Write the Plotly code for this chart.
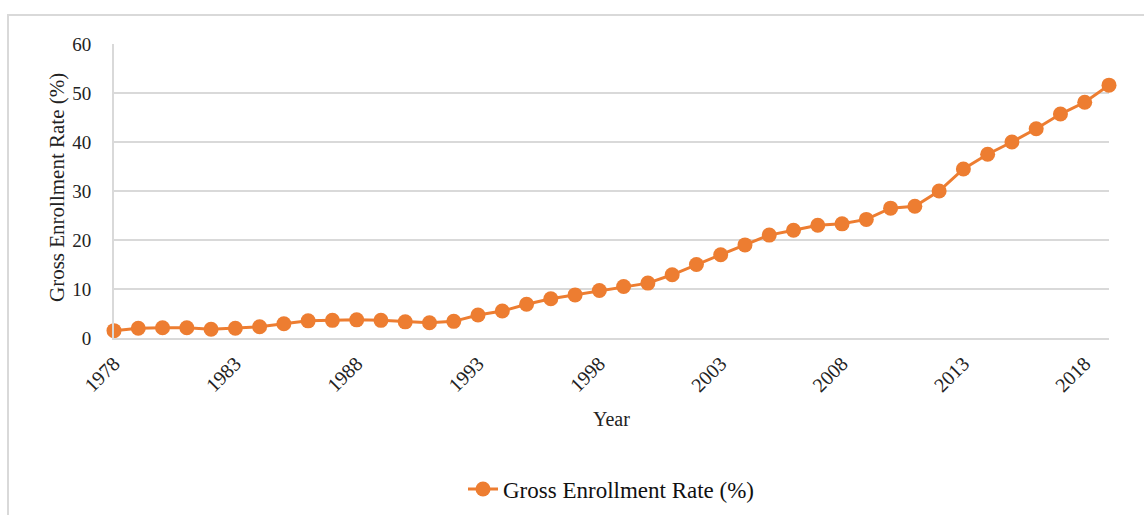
import plotly.graph_objects as go

years = list(range(1978, 2020))
rates = [1.5, 2.0, 2.1, 2.1, 1.8, 2.0, 2.3, 2.9, 3.5, 3.6, 3.7, 3.6, 3.3, 3.1, 3.4,
         4.7, 5.5, 6.9, 8.0, 8.8, 9.7, 10.5, 11.2, 12.9, 15.0, 17.0, 19.0, 21.0,
         22.0, 23.0, 23.3, 24.2, 26.5, 26.9, 30.0, 34.5, 37.5, 40.0, 42.7, 45.7,
         48.1, 51.6]
x_ticks = [1978, 1983, 1988, 1993, 1998, 2003, 2008, 2013, 2018]
y_ticks = [0, 10, 20, 30, 40, 50, 60]

color = "#ED7D31"
font = "Liberation Serif, Times New Roman, serif"

fig = go.Figure()
fig.add_trace(go.Scatter(
    x=years, y=rates, mode="lines+markers",
    name="Gross Enrollment Rate (%)",
    line=dict(color=color, width=3),
    marker=dict(color=color, size=15),
    cliponaxis=False,
))

L, R, T, B = 114, 35, 44, 177
W, H = 1144, 515
pw, ph = W - L - R, H - T - B

fig.update_layout(
    width=W, height=H,
    margin=dict(l=L, r=R, t=T, b=B, autoexpand=False),
    paper_bgcolor="white", plot_bgcolor="white",
    font=dict(family=font, size=19, color="#222"),
    showlegend=True,
    legend=dict(orientation="h", x=0.5, xanchor="center",
                y=-(489 - 338) / ph, yanchor="middle",
                font=dict(size=23, family=font, color="#111")),
    xaxis=dict(range=[1978, 2019], tickvals=x_ticks, ticktext=[str(v) for v in x_ticks],
               tickangle=-45, showgrid=False, zeroline=False, automargin=False,
               showline=True, linecolor="#d9d9d9", linewidth=2,
               ticks="", ticklabelstandoff=4, tickfont=dict(size=20)),
    yaxis=dict(range=[0, 60], tickvals=y_ticks, showgrid=True, gridcolor="#d9d9d9",
               gridwidth=2, zeroline=False, showline=True, linecolor="#d9d9d9",
               linewidth=2, ticks="", ticklabelstandoff=17, automargin=False),
    annotations=[
        dict(text="Gross Enrollment Rate (%)", textangle=-90, showarrow=False,
             xref="paper", yref="paper", x=(57 - L) / pw, y=(H - B - 188) / ph,
             xanchor="center", yanchor="middle", font=dict(size=21)),
        dict(text="Year", showarrow=False, xref="paper", yref="paper",
             x=(611 - L) / pw, y=-(419 - (H - B)) / ph,
             xanchor="center", yanchor="middle", font=dict(size=20)),
    ],
    shapes=[dict(type="rect", xref="paper", yref="paper",
                 x0=(8 - L) / pw, x1=(W + 20 - L) / pw,
                 y0=-(H + 20 - (H - B)) / ph, y1=1 + (T - 15) / ph,
                 line=dict(color="#d9d9d9", width=2), layer="below")],
)

fig.write_html("out.html")
